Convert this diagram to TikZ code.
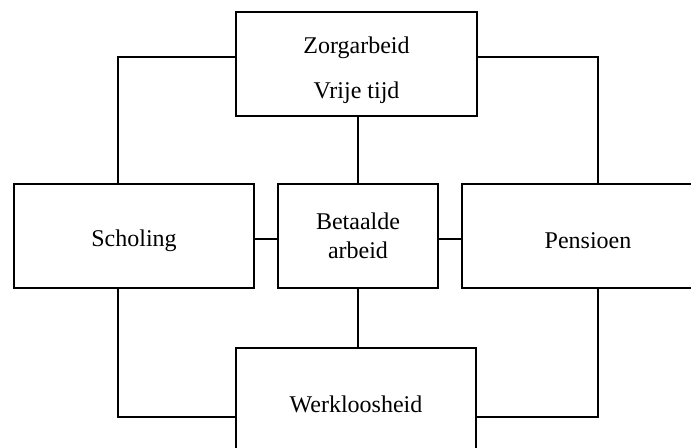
\documentclass[tikz,border=0pt]{standalone}
\usepackage{fontspec}
\setmainfont{Liberation Serif}
\usepackage{tikz}

\begin{document}
\begin{tikzpicture}[x=0.5pt,y=-0.5pt,line width=1pt,
    font=\fontsize{12}{14.5}\selectfont,
    box/.style={draw,align=center,minimum width=120pt,minimum height=52pt,inner sep=0pt},
    lowtext/.style={text height=13pt}]
  \clip (0,0) rectangle (691,448);
  \node[box,minimum width=120.5pt] (zorg) at (356.5,64) {\rule{0pt}{14.1pt}Zorgarbeid\\[8pt]Vrije tijd};
  \node[box,lowtext] (scholing) at (134,236) {Scholing};
  \node[box,minimum width=80pt] (arbeid) at (358,236) {Betaalde\\arbeid};
  \node[box,lowtext,minimum width=126pt] (pensioen) at (588,236) {Pensioen};
  \node[box,lowtext] (werkloos) at (356,400) {Werkloosheid};
  \draw ([yshift=3.5pt]zorg.west) -| ([xshift=-8pt]scholing.north);
  \draw ([yshift=3.5pt]zorg.east) -| ([xshift=5pt]pensioen.north);
  \draw ([xshift=-8pt]scholing.south) |- ([yshift=-8.5pt]werkloos.west);
  \draw ([xshift=5pt]pensioen.south) |- ([yshift=-8.5pt]werkloos.east);
  \draw (arbeid.north) -- (arbeid.north |- zorg.south);
  \draw (arbeid.south) -- (arbeid.south |- werkloos.north);
  \draw ([yshift=-1.5pt]scholing.east) -- ([yshift=-1.5pt]scholing.east -| arbeid.west);
  \draw ([yshift=-1.5pt]arbeid.east) -- ([yshift=-1.5pt]arbeid.east -| pensioen.west);
\end{tikzpicture}
\end{document}
